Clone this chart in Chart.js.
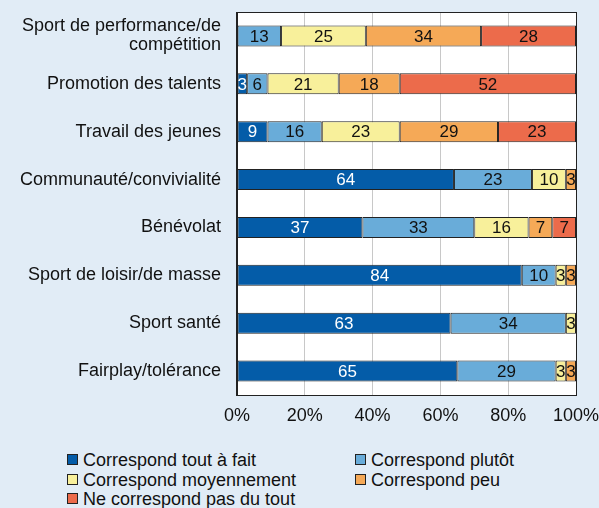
<!DOCTYPE html>
<html>
<head>
<meta charset="utf-8">
<script src="https://cdn.jsdelivr.net/npm/chart.js@4/dist/chart.umd.min.js"></script>
<style>
  body { margin: 0; background: #e1ecf6; font-family: "Liberation Sans", Arial, sans-serif; }
  #wrap { position: relative; width: 599px; height: 508px; }
  #box { position: absolute; left: 0; top: 0; width: 599px; height: 440px; }
  .leg { position: absolute; font-size: 18px; color: #111; white-space: nowrap; line-height: 20px; }
  .leg span { display: inline-block; width: 9px; height: 9px; border: 1px solid #222; margin-right: 5px; vertical-align: 1px; }
</style>
</head>
<body>
<div id="wrap">
  <div id="box"><canvas id="chart"></canvas></div>
  <div id="legend"></div>
</div>
<script>
const categories = [
  ["Sport de performance/de", "compétition"],
  "Promotion des talents",
  "Travail des jeunes",
  "Communauté/convivialité",
  "Bénévolat",
  "Sport de loisir/de masse",
  "Sport santé",
  "Fairplay/tolérance"
];
const seriesNames = [
  "Correspond tout à fait",
  "Correspond plutôt",
  "Correspond moyennement",
  "Correspond peu",
  "Ne correspond pas du tout"
];
const toutAFait   = [0, 3, 9, 64, 37, 84, 63, 65];
const plutot      = [13, 6, 16, 23, 33, 10, 34, 29];
const moyennement = [25, 21, 23, 10, 16, 3, 3, 3];
const peu         = [34, 18, 29, 3, 7, 3, 0, 3];
const pasDuTout   = [28, 52, 23, 0, 7, 0, 0, 0];
const xTicks = [0, 20, 40, 60, 80, 100];

const colors = ['#045ca8', '#69acd9', '#f8f09b', '#f5a957', '#ec6b4b'];
const values = [toutAFait, plutot, moyennement, peu, pasDuTout];

const plotBg = {
  id: 'plotBg',
  beforeDraw(chart) {
    const a = chart.chartArea, ctx = chart.ctx;
    ctx.save();
    ctx.fillStyle = '#ffffff';
    ctx.fillRect(a.left, a.top, a.right - a.left, a.bottom - a.top);
    ctx.restore();
  },
  afterDraw(chart) {
    const a = chart.chartArea, ctx = chart.ctx;
    ctx.save();
    ctx.strokeStyle = '#222';
    ctx.lineWidth = 1;
    ctx.strokeRect(Math.round(a.left) - 0.5, Math.round(a.top) + 0.5, Math.round(a.right - a.left) + 1, Math.round(a.bottom - a.top));
    ctx.restore();
  }
};

const barLabels = {
  id: 'barLabels',
  afterDatasetsDraw(chart) {
    const ctx = chart.ctx;
    ctx.save();
    ctx.font = '17px "Liberation Sans", Arial, sans-serif';
    ctx.textAlign = 'center';
    ctx.textBaseline = 'middle';
    chart.data.datasets.forEach((ds, i) => {
      chart.getDatasetMeta(i).data.forEach((bar, j) => {
        const v = ds.data[j];
        if (!v) return;
        const p = bar.getProps(['x', 'base', 'y'], true);
        ctx.fillStyle = i === 0 ? '#ffffff' : '#111111';
        ctx.fillText(String(v), (p.x + p.base) / 2, p.y + 1);
      });
    });
    ctx.restore();
  }
};

new Chart(document.getElementById('chart'), {
  type: 'bar',
  data: {
    labels: categories,
    datasets: seriesNames.map((name, i) => ({
      label: name,
      data: values[i],
      backgroundColor: colors[i],
      borderColor: '#222',
      borderWidth: 1,
      borderSkipped: false,
      barPercentage: 0.44,
      categoryPercentage: 1
    }))
  },
  options: {
    indexAxis: 'y',
    responsive: true,
    maintainAspectRatio: false,
    animation: false,
    layout: { padding: { top: 12, right: 23, left: 0, bottom: 0 } },
    plugins: {
      legend: { display: false },
      tooltip: { enabled: false }
    },
    scales: {
      x: {
        stacked: true,
        min: 0,
        max: 100,
        afterBuildTicks(scale) { scale.ticks = xTicks.map(v => ({ value: v })); },
        afterFit(scale) {
          scale.height = 45;
          scale.paddingLeft = 0;
          scale.paddingRight = 0;
        },
        grid: { color: '#c8c8c8', drawTicks: false },
        border: { color: '#222' },
        ticks: {
          padding: 10,
          color: '#111',
          font: { family: '"Liberation Sans", Arial', size: 18 },
          callback: v => v + '%'
        }
      },
      y: {
        stacked: true,
        afterFit(scale) {
          scale.width = 237;
          scale.paddingTop = 0;
          scale.paddingBottom = 0;
        },
        grid: { display: false, drawTicks: false },
        border: { color: '#222' },
        ticks: {
          padding: 16,
          color: '#111',
          font: { family: '"Liberation Sans", Arial', size: 18, lineHeight: '19px' }
        }
      }
    }
  },
  plugins: [plotBg, barLabels]
});

const legendPos = [[67, 450], [355, 450], [67, 469.5], [355, 469.5], [67, 489]];
const legend = document.getElementById('legend');
seriesNames.forEach((name, i) => {
  const d = document.createElement('div');
  d.className = 'leg';
  d.style.left = legendPos[i][0] + 'px';
  d.style.top = legendPos[i][1] + 'px';
  d.innerHTML = '<span style="background:' + colors[i] + '"></span>' + name;
  legend.appendChild(d);
});
</script>
</body>
</html>
